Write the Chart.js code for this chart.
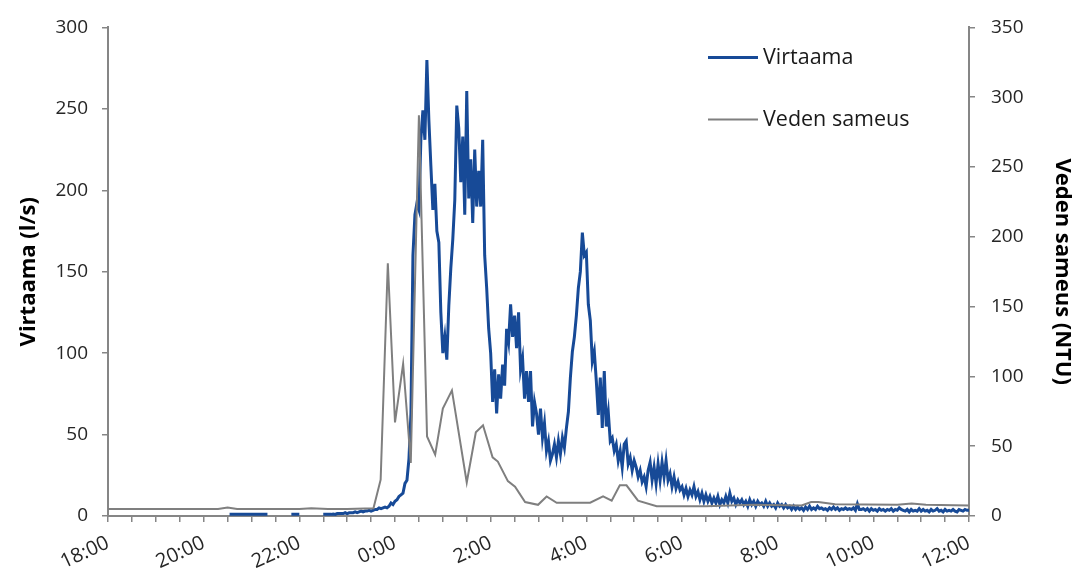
<!DOCTYPE html>
<html>
<head>
<meta charset="utf-8">
<script src="https://cdn.jsdelivr.net/npm/chart.js@4.4.1/dist/chart.umd.min.js"></script>
<style>
  html, body { margin: 0; padding: 0; background: #fff; }
  #chart { display: block; }
</style>
</head>
<body>
<canvas id="chart" width="1075" height="571"></canvas>
<script>
// x axis runs in hours counted from 18:00
const timeLabels = ['18:00', '20:00', '22:00', '0:00', '2:00', '4:00', '6:00', '8:00', '10:00', '12:00'];

// Virtaama (l/s), one reading every 2.5 minutes from 18:00, null where no line is drawn
const flowStepMinutes = 2.5;
const flowValues = [
  // 18:00 - 20:30, nothing drawn
  null, null, null, null, null, null, null, null, null, null, null, null,
  null, null, null, null, null, null, null, null, null, null, null, null,
  null, null, null, null, null, null, null, null, null, null, null, null,
  null, null, null, null, null, null, null, null, null, null, null, null,
  null, null, null, null, null, null, null, null, null, null, null, null, null,
  1, 1, 1, 1, 1, 1, 1, 1, 1, 1, 1, 1, 1, 1, 1, 1, 1, 1, 1, 1,
  null, null, null, null, null, null, null, null, null, null, null,
  1, 1, 1, 1, 1,
  null, null, null, null, null, null, null, null, null, null, null,
  // 22:30 - 0:00
  1, 1, 1, 1, 1, 1.2, 1, 1.5, 1.5, 1.5, 1.5, 2,
  1.5, 2, 2, 2, 2.5, 2, 2.5, 3, 2.5, 3, 3, 3.5,
  3, 3.5, 4, 4, 5, 4.5, 5, 5.5, 5, 6, 8, 7,
  // 0:00 - 9:00
  9, 10, 12, 13, 14, 20, 22, 35, 63, 160, 185, 192,
  188, 232, 249, 231, 280, 243, 215, 188, 204, 175, 168, 125,
  100, 110, 96, 129, 152, 170, 194, 252, 238, 205, 233, 185,
  261, 195, 219, 180, 225, 190, 212, 190, 231, 160, 140, 115,
  100, 70, 90, 63, 87, 72, 93, 80, 115, 107, 130, 110,
  123, 103, 125, 90, 97, 72, 89, 70, 89, 55, 70, 63,
  50, 66, 48, 57, 40, 46, 34, 38, 44, 36, 46, 38,
  48, 42, 54, 64, 85, 101, 110, 123, 140, 150, 174, 160,
  162, 130, 120, 95, 101, 83, 62, 85, 54, 89, 55, 64,
  46, 48, 40, 44, 34, 40, 30, 44, 46, 32, 36, 28,
  34, 30, 24, 28, 21, 24, 18, 28, 33, 22, 30, 20,
  32, 22, 33, 24, 34, 22, 26, 18, 24, 17, 21, 16,
  18, 13, 17, 12, 16, 13, 18, 12, 15, 10, 14, 9,
  13, 9, 12, 8, 11, 8, 12, 7, 10, 8, 12, 8,
  14, 9, 11, 7, 10, 8, 10, 7, 9, 6, 10, 7,
  9, 6, 9, 7, 8, 6, 9, 6, 8, 6, 7, 5,
  8, 6, 7, 5, 7, 5, 6, 4, 6, 4, 5.5, 4,
  5, 3.5, 5.5, 4, 6, 4, 5, 4, 6, 4.5, 5, 4,
  // 9:00 - 12:00
  4.5, 3.5, 5, 4, 5.5, 4, 5, 3.5, 4.5, 4,
  5, 4, 4.5, 4, 5, 3.5, 7.5, 4, 4, 4.5,
  3.5, 4.5, 3, 4.5, 3.5, 4, 3, 4.5, 3.5, 4,
  3, 4, 3.5, 4.5, 3, 4, 3.5, 5, 4, 3.5,
  3, 4, 2.5, 4, 3, 3.5, 3, 4.5, 3, 4,
  3, 3.5, 2.5, 4, 3, 3.5, 4.5, 3, 3.5, 2.5,
  4, 3, 3.5, 3, 4, 3, 2.5, 4, 3.5, 3,
  4, 3.5, 3.5
];

// Veden sameus (NTU)
const turbHours = [
  0, 2.3, 2.5, 2.7, 4.0, 4.25, 4.6, 5.0, 5.55, 5.7,
  5.85, 6.0, 6.17, 6.33, 6.5, 6.67, 6.84, 7.0, 7.19, 7.5,
  7.69, 7.84, 8.04, 8.15, 8.36, 8.51, 8.72, 8.99, 9.17, 9.38,
  10.08, 10.35, 10.53, 10.7, 10.84, 11.08, 11.47, 12.5, 13.5, 14.5,
  14.7, 14.85, 15.2, 16.5, 16.8, 17.1, 18
];
const turbValues = [
  5, 5, 6, 5, 5, 5.5, 5, 5, 5.5, 26,
  181, 67, 109, 38, 287, 57, 44, 77, 90, 24,
  60, 65, 42, 39, 25, 21, 10, 8, 14, 9.5,
  9.5, 14, 11, 22, 22, 11, 7, 7, 8, 7.5,
  10, 10, 8.5, 8, 9, 8, 7.5
];

const axisColor = '#868686';
const textColor = '#262626';
Chart.defaults.font.family = '"Open Sans", sans-serif';

const flowData = flowValues.map((v, i) => ({ x: i * flowStepMinutes / 60, y: v }));
const turbData = turbHours.map((h, i) => ({ x: h, y: turbValues[i] }));

// legend drawn inside the plot, top right, like the original
const insideLegend = {
  id: 'insideLegend',
  afterDraw(chart) {
    const { ctx, chartArea } = chart;
    ctx.save();
    ctx.font = '21.5px "Open Sans"';
    ctx.textBaseline = 'middle';
    chart.data.datasets.forEach((ds, i) => {
      const y = chartArea.top + 30 + i * 62;
      const x0 = chartArea.right - 261;
      ctx.strokeStyle = ds.borderColor;
      ctx.lineWidth = ds.borderWidth;
      ctx.beginPath();
      ctx.moveTo(x0, y);
      ctx.lineTo(x0 + 50, y);
      ctx.stroke();
      ctx.fillStyle = '#1a1a1a';
      ctx.fillText(ds.label, x0 + 55, y);
    });
    ctx.restore();
  }
};

new Chart(document.getElementById('chart'), {
  type: 'line',
  data: {
    datasets: [
      {
        label: 'Virtaama',
        data: flowData,
        yAxisID: 'y',
        borderColor: '#174A97',
        borderWidth: 3,
        pointRadius: 0,
        tension: 0,
        spanGaps: false,
        order: 2
      },
      {
        label: 'Veden sameus',
        data: turbData,
        yAxisID: 'y1',
        borderColor: '#7F7F7F',
        borderWidth: 2,
        pointRadius: 0,
        tension: 0,
        order: 1
      }
    ]
  },
  options: {
    responsive: false,
    animation: false,
    layout: { padding: { top: 23, left: 0, right: 0, bottom: 0 } },
    plugins: {
      legend: { display: false },
      tooltip: { enabled: false }
    },
    scales: {
      x: {
        type: 'linear',
        min: 0,
        max: 18,
        afterFit: s => { s.height = 55; },
        border: { color: axisColor, width: 2 },
        grid: { drawOnChartArea: false, drawTicks: true, tickLength: 6, color: axisColor, lineWidth: 1.5 },
        ticks: {
          stepSize: 0.5,
          autoSkip: false,
          minRotation: 25,
          maxRotation: 25,
          padding: 9,
          color: textColor,
          font: { size: 20 },
          callback: v => (v % 2 === 0 ? timeLabels[v / 2] : '')
        }
      },
      y: {
        position: 'left',
        min: 0,
        max: 300,
        afterFit: s => { s.width = 108; },
        border: { color: axisColor, width: 2 },
        grid: { drawOnChartArea: false, drawTicks: true, tickLength: 6, color: axisColor, lineWidth: 1.5 },
        ticks: { stepSize: 50, padding: 14, color: textColor, font: { size: 19 } },
        title: {
          display: true,
          text: 'Virtaama (l/s)',
          color: '#000',
          font: { size: 22, weight: 'bold' },
          padding: { top: 16, bottom: 0 }
        }
      },
      y1: {
        position: 'right',
        min: 0,
        max: 350,
        afterFit: s => { s.width = 106; },
        border: { color: axisColor, width: 2 },
        grid: { drawOnChartArea: false, drawTicks: true, tickLength: 6, color: axisColor, lineWidth: 1.5 },
        ticks: { stepSize: 50, padding: 16, color: textColor, font: { size: 19 } },
        title: {
          display: true,
          text: 'Veden sameus (NTU)',
          color: '#000',
          font: { size: 22, weight: 'bold' },
          padding: { top: 0, bottom: 0 }
        }
      }
    }
  },
  plugins: [insideLegend]
});
</script>
</body>
</html>
